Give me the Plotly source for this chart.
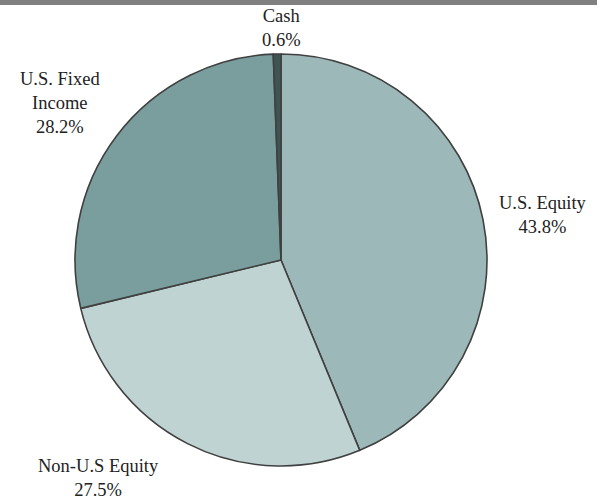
import plotly.graph_objects as go

# Data
categories = ["U.S. Equity", "Non-U.S Equity", "U.S. Fixed Income", "Cash"]
values = [43.8, 27.5, 28.2, 0.6]
label_lines = ["U.S. Equity", "Non-U.S Equity", "U.S. Fixed<br>Income", "Cash"]

colors = ["#9db8b8", "#bfd3d3", "#7a9e9e", "#3f5454"]

W, H = 597, 502
L, R, T, B = 0, 35, 54, 36
PW, PH = W - L - R, H - T - B

def px2paper(x, y):
    return (x - L) / PW, (H - B - y) / PH

# label anchor positions (pixel centres) - layout only
label_pos = [(543, 215), (98, 478), (60, 103), (281, 28)]

fig = go.Figure(go.Pie(
    labels=categories,
    values=values,
    sort=False,
    direction="clockwise",
    rotation=0,
    textinfo="none",
    hoverinfo="label+percent",
    marker=dict(colors=colors, line=dict(color="#404040", width=1.6)),
    showlegend=False,
))

font = dict(family="Liberation Serif, serif", size=18.5, color="#222222")
for lab, val, (x, y) in zip(label_lines, values, label_pos):
    xp, yp = px2paper(x, y)
    fig.add_annotation(
        x=xp, y=yp, xref="paper", yref="paper",
        text=f"{lab}<br>{val:.1f}%",
        showarrow=False, font=font, align="center",
        xanchor="center", yanchor="middle",
    )

# top grey band
y0 = (H - B - 5) / PH
y1 = (H - B) / PH
fig.add_shape(type="rect", xref="paper", yref="paper",
              x0=-L / PW, x1=(W - L) / PW, y0=y0, y1=y1,
              fillcolor="#808080", line=dict(width=0), layer="above")

fig.update_layout(
    width=W, height=H,
    margin=dict(l=L, r=R, t=T, b=B),
    paper_bgcolor="white", plot_bgcolor="white",
)

fig.write_html("out.html",
               config={"displayModeBar": False},
               post_script="document.body.style.margin='0';document.body.style.overflow='hidden';")
